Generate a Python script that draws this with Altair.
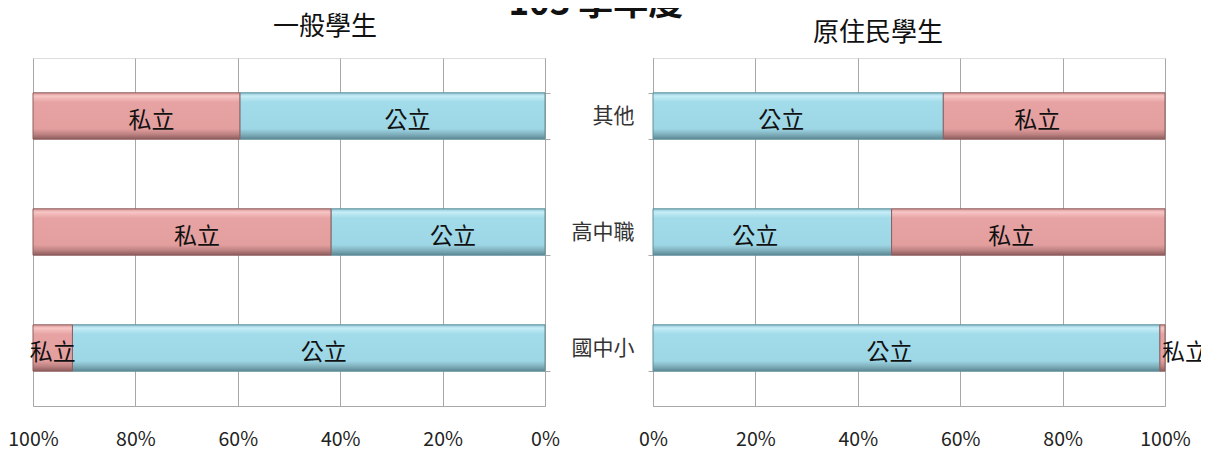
import altair as alt
import pandas as pd

FONT = "Noto Sans CJK TC"

levels = ["其他", "高中職", "國中小"]
types = ["公立", "私立"]

general_public = [59.6, 41.8, 92.3]
general_private = [40.4, 58.2, 7.7]

indigenous_public = [56.7, 46.6, 99.0]
indigenous_private = [43.3, 53.4, 1.0]

tick_values = [0, 0.2, 0.4, 0.6, 0.8, 1.0]

blue_grad = alt.LinearGradient(
    gradient="linear", x1=0, y1=0, x2=0, y2=1,
    stops=[
        alt.GradientStop(offset=0, color="#8cc4d2"),
        alt.GradientStop(offset=0.07, color="#c6eef8"),
        alt.GradientStop(offset=0.2, color="#a2dbe9"),
        alt.GradientStop(offset=0.78, color="#9dd6e5"),
        alt.GradientStop(offset=0.9, color="#7faebb"),
        alt.GradientStop(offset=1, color="#5a8793"),
    ],
)
pink_grad = alt.LinearGradient(
    gradient="linear", x1=0, y1=0, x2=0, y2=1,
    stops=[
        alt.GradientStop(offset=0, color="#d69292"),
        alt.GradientStop(offset=0.07, color="#f8c6c6"),
        alt.GradientStop(offset=0.2, color="#e7a3a3"),
        alt.GradientStop(offset=0.78, color="#e39e9e"),
        alt.GradientStop(offset=0.9, color="#bb8080"),
        alt.GradientStop(offset=1, color="#8a5a5a"),
    ],
)


def make_panel(public, private, reverse, title, title_dx, title_dy, show_labels, label_dx):
    df = pd.DataFrame({
        "level": levels * 2,
        "type": [types[0]] * len(levels) + [types[1]] * len(levels),
        "value": public + private,
        "order": [0] * len(levels) + [1] * len(levels),
    })
    base = alt.Chart(df).transform_stack(
        stack="value", groupby=["level"], sort=[alt.SortField("order")],
        as_=["x0", "x1"], offset="normalize",
    ).transform_calculate(
        mid="(datum.x0 + datum.x1) / 2", width="datum.x1 - datum.x0"
    )

    xaxis = alt.Axis(
        format="%", values=tick_values, grid=True, gridColor="#a8a8a8",
        domainColor="#a8a8a8", ticks=False, labelFontSize=19.5, labelFont=FONT,
        labelColor="#222222", labelPadding=24, title=None, labelFlush=False,
    )
    xscale = alt.Scale(domain=[0, 1], reverse=reverse, nice=False)
    if show_labels:
        yaxis = alt.Axis(
            orient="left", title=None, labelFontSize=21, labelFont=FONT,
            labelColor="#333333", labelPadding=14, domainColor="#a8a8a8",
            tickColor="#a8a8a8", tickSize=5, tickBand="extent",
        )
    else:
        yaxis = alt.Axis(
            orient="right", title=None, labels=False, domainColor="#a8a8a8",
            tickColor="#a8a8a8", tickSize=5, tickBand="extent",
        )
    yscale = alt.Scale(paddingInner=0.6, paddingOuter=0.3)
    y = alt.Y("level:N", sort=levels, scale=yscale, axis=yaxis)

    pub = base.transform_filter(alt.datum.type == types[0]).mark_bar(
        color=blue_grad, stroke="#5f8e9a", strokeWidth=1
    ).encode(x=alt.X("x0:Q", scale=xscale, axis=xaxis), x2="x1:Q", y=y)
    pri = base.transform_filter(alt.datum.type == types[1]).mark_bar(
        color=pink_grad, stroke="#8e5e5e", strokeWidth=1
    ).encode(x=alt.X("x0:Q", scale=xscale, axis=xaxis), x2="x1:Q", y=y)

    txt_big = base.transform_filter("datum.width >= 0.15").mark_text(
        font=FONT, fontSize=23, color="#111111", dy=5, dx=label_dx
    ).encode(x=alt.X("mid:Q", scale=xscale, axis=xaxis), y=y, text="type:N")
    txt_mid = base.transform_filter("datum.width >= 0.03 && datum.width < 0.15").mark_text(
        font=FONT, fontSize=23, color="#111111", dy=5
    ).encode(x=alt.X("mid:Q", scale=xscale, axis=xaxis), y=y, text="type:N")
    txt_small = base.transform_filter("datum.width < 0.03").mark_text(
        font=FONT, fontSize=23, color="#111111", dy=5, align="left", dx=2
    ).encode(x=alt.X("x0:Q", scale=xscale, axis=xaxis), y=y, text="type:N")

    return alt.layer(pub, pri, txt_big, txt_mid, txt_small).properties(
        width=512, height=348,
        title=alt.TitleParams(
            title, fontSize=26, font=FONT, fontWeight="normal", color="#111111",
            anchor="middle", frame="group", dx=title_dx, dy=title_dy, offset=14,
        ),
    )


left = make_panel(general_public, general_private, True, "一般學生", 36, -4.5, False, 15)
right = make_panel(indigenous_public, indigenous_private, False, "原住民學生", -31, 12.5, True, -17)

chart = alt.hconcat(left, right, spacing=10).properties(
    title=alt.TitleParams(
        "103 學年度", fontSize=35, font=FONT, fontWeight="bold", color="#111111",
        anchor="middle", offset=-9, dx=-12,
    ),
    padding={"left": -1, "top": -21, "right": -8, "bottom": 0},
).configure_view(stroke=None).configure(background="white")

chart.save("out.html", embed_options={"renderer": "svg", "actions": False})
